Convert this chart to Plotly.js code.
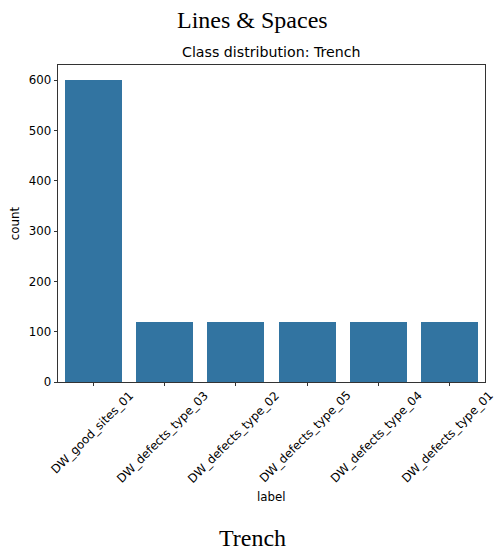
<!DOCTYPE html>
<html>
<head>
<meta charset="utf-8">
<script src="https://cdn.plot.ly/plotly-3.0.1.min.js"></script>
<style>
  html, body { margin: 0; padding: 0; background: #fff; }
  #chart { width: 494px; height: 550px; }
</style>
</head>
<body>
<div id="chart"></div>
<script>
// Class counts for the Trench set
const labels = ["DW_good_sites_01", "DW_defects_type_03", "DW_defects_type_02",
                "DW_defects_type_05", "DW_defects_type_04", "DW_defects_type_01"];
const counts = [600, 120, 120, 120, 120, 120];
const yTicks = [0, 100, 200, 300, 400, 500, 600];

const barColor = "#3274a1";
const sans = "DejaVu Sans, sans-serif";
const serif = "Liberation Serif, serif";
const tickSize = 11.8;

const idx = labels.map((_, i) => i);

const trace = {
  type: "bar",
  x: idx,
  y: counts,
  width: 0.8,
  marker: { color: barColor, line: { width: 0 } },
  hoverinfo: "x+y"
};

// Rotated category labels, centred under each tick
const tickAnnotations = labels.map((t, i) => ({
  x: i, y: 0, xref: "x", yref: "paper",
  text: t, showarrow: false, textangle: -45,
  xanchor: "center", yanchor: "top", yshift: -4, xshift: -2,
  font: { family: sans, size: tickSize, color: "#000" }
}));

// Figure-level headings sit at the centre of the whole figure
const figCenter = 0.455;

const layout = {
  width: 494, height: 550,
  margin: { l: 58, r: 9, t: 65, b: 168 },
  paper_bgcolor: "#fff", plot_bgcolor: "#fff",
  showlegend: false,
  bargap: 0,
  xaxis: {
    range: [-0.5, 5.5],
    tickmode: "array", tickvals: idx, ticktext: labels.map(() => ""),
    ticks: "outside", ticklen: 3.6, tickwidth: 0.8, tickcolor: "#000",
    showline: true, linecolor: "#000", linewidth: 0.8, mirror: true,
    showgrid: false, zeroline: false,
    title: { text: "" }
  },
  yaxis: {
    range: [0, 630],
    tickmode: "array", tickvals: yTicks,
    ticks: "outside", ticklen: 3.6, tickwidth: 0.8, tickcolor: "#000",
    tickfont: { family: sans, size: tickSize, color: "#000" },
    showline: true, linecolor: "#000", linewidth: 0.8, mirror: true,
    showgrid: false, zeroline: false,
    title: { text: "count", font: { family: sans, size: tickSize, color: "#000" }, standoff: 6 }
  },
  annotations: tickAnnotations.concat([
    { text: "label", xref: "paper", yref: "paper", x: 0.5, y: 0, yshift: -115,
      xanchor: "center", yanchor: "middle", showarrow: false,
      font: { family: sans, size: tickSize, color: "#000" } },
    { text: "Class distribution: Trench", xref: "paper", yref: "paper", x: 0.5, y: 1, yshift: 13,
      xanchor: "center", yanchor: "middle", showarrow: false,
      font: { family: sans, size: 14.2, color: "#000" } },
    { text: "Lines &amp; Spaces", xref: "paper", yref: "paper", x: figCenter, y: 1, yshift: 45,
      xanchor: "center", yanchor: "middle", showarrow: false,
      font: { family: serif, size: 24, color: "#000" } },
    { text: "Trench", xref: "paper", yref: "paper", x: figCenter, y: 0, yshift: -156,
      xanchor: "center", yanchor: "middle", showarrow: false,
      font: { family: serif, size: 24, color: "#000" } }
  ])
};

Plotly.newPlot("chart", [trace], layout, { displayModeBar: false, staticPlot: true });
</script>
</body>
</html>
